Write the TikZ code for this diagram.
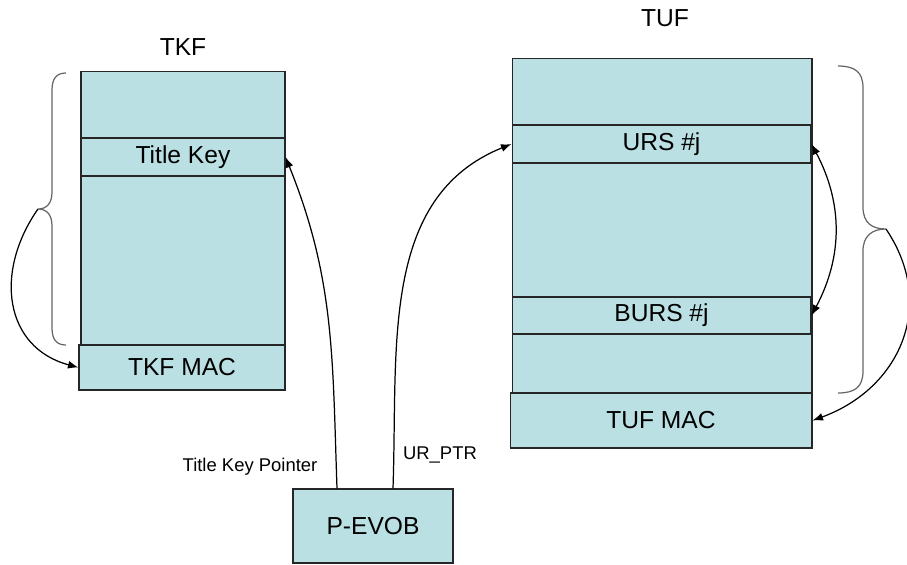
\documentclass[tikz,border=0pt]{standalone}
\usepackage{fontspec}
\setmainfont{Liberation Sans}
\usetikzlibrary{arrows.meta}
\definecolor{boxfill}{HTML}{BBE0E3}

\begin{document}
\begin{tikzpicture}
[x=0.02cm,y=-0.02cm,
  blockdecorate/.style={shape=rectangle,draw=black!85,fill=boxfill,line width=0.6pt,
    inner sep=0pt,font=\fontsize{14}{16}\selectfont},
  bracedecorate/.style={draw=black!60,line width=0.7pt},
  linedecorate/.style={-{Latex[length=6pt,width=4.5pt]},line width=0.7pt},
  labeldecorate/.style={inner sep=0pt,font=\fontsize{10.5}{12}\selectfont}]
\useasboundingbox (0,0) rectangle (907,565);
%% blocks: name/x/y/width/height/text
\foreach \boxname/\x/\y/\w/\h/\boxtext in {
  %% title key file
  tkf/183/208/4.08/5.48/{}, tk/183/157/4.08/0.76/{Title Key},
  tkfmac/182/367.5/4.12/0.9/{TKF MAC},
  %% title usage file
  tuf/662/225.5/6.0/6.7/{}, urs/661.5/144/5.98/0.76/{URS \#j},
  burs/661.5/315.5/5.98/0.74/{BURS \#j}, tufmac/661/420.5/6.04/1.1/{TUF MAC},
  %% evob
  pevob/373/526/3.2/1.48/{P-EVOB}}
{
  \node (\boxname) at (\x,\y) [blockdecorate,minimum width=\w cm,minimum height=\h cm] {\boxtext};
}
\node (tkflabel) at (183,47) [labeldecorate,font=\fontsize{14}{16}\selectfont] {TKF};
\node (tuflabel) at (665,18) [labeldecorate,font=\fontsize{14}{16}\selectfont] {TUF};
\node (tkpointer) at (250,467) [labeldecorate] {Title Key Pointer};
\node (urptr) at (440,455) [labeldecorate] {UR\_PTR};
%% braces
\coordinate (tkftip) at (38,209);
\coordinate (tuftip) at (886,229);
\draw[bracedecorate] (66,73) .. controls (57,73) and (52,78) .. (52,90) -- (52,192)
  .. controls (52,203) and (47,209) .. (tkftip) .. controls (47,209) and (52,215) .. (52,226)
  -- (52,328) .. controls (52,340) and (57,345) .. (66,345);
\draw[bracedecorate] (838,66) .. controls (855,66) and (863,72) .. (863,88) -- (863,207)
  .. controls (863,223) and (872,229) .. (tuftip) .. controls (872,229) and (863,236) .. (863,251)
  -- (863,371) .. controls (863,387) and (855,393) .. (838,393);
%% pointers
\draw[linedecorate] ([xshift=-0.72cm]pevob.north) to[out=92,in=-68] (tk.east);
\draw[linedecorate] ([xshift=0.4cm]pevob.north) to[out=88,in=202] (urs.west);
\draw[linedecorate] (tkftip) to[out=235,in=165,looseness=1.2] (tkfmac.west);
\draw[linedecorate] (tuftip) to[out=-56,in=20,looseness=1.15] (tufmac.east);
\draw[linedecorate,{Latex[length=6pt,width=4.5pt]}-{Latex[length=6pt,width=4.5pt]}] (urs.east) to[bend left=28] (burs.east);
\end{tikzpicture}
\end{document}
